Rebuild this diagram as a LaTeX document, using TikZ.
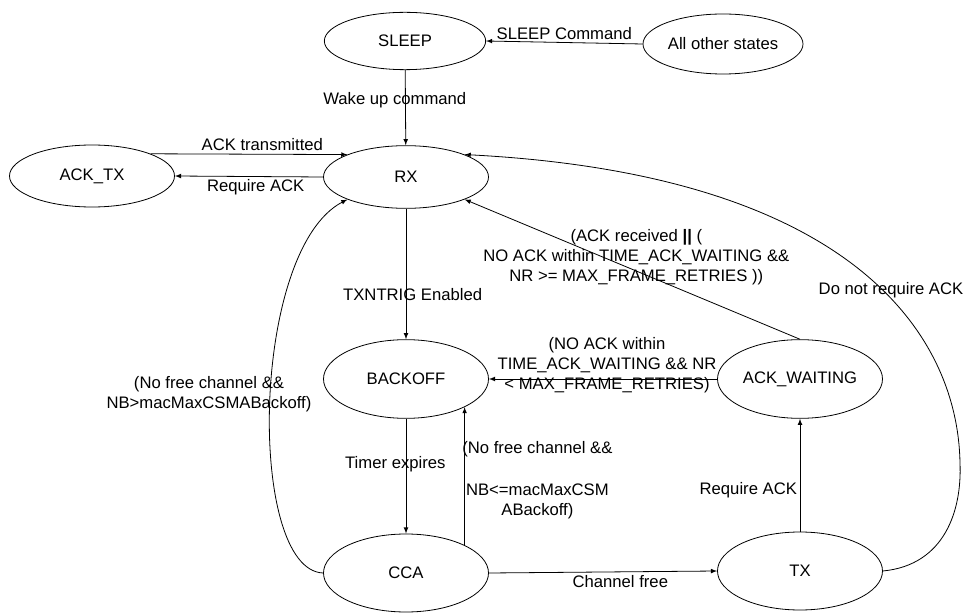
\documentclass[tikz,border=0pt]{standalone}
\usepackage{fontspec}
\setmainfont{Liberation Sans}
\usetikzlibrary{shapes.geometric}

\begin{document}
\begin{tikzpicture}[
                x=0.75pt, y=-0.75pt,
                font=\fontsize{12.5}{15}\selectfont,
                >=latex,
                every edge/.style={draw, semithick},
                state/.style={draw, semithick, ellipse, inner sep=0pt, minimum width=123.75pt, minimum height=59pt},
                lbl/.style={align=center, inner sep=2pt}]

    \useasboundingbox (0,0) rectangle (965,613);

    %%% NODES
    \node [state, minimum width=121pt, minimum height=43pt] (sleep) at (405,41) {SLEEP};
    \node [state, minimum width=120pt, minimum height=45pt] (allother) at (723,44) {All other states};
    \node [state, minimum height=46.5pt] (acktx) at (92,176) {ACK\_TX};
    \node [state, minimum height=47pt] (rx) at (406,177) {RX};
    \node [state] (backoff) at (406,379) {BACKOFF};
    \node [state] (ackwaiting) at (800,379) {ACK\_WAITING};
    \node [state, minimum height=58.5pt] (cca) at (406,573) {CCA};
    \node [state, minimum height=58.5pt] (tx) at (800,571) {TX};
    \coordinate (farright) at (960,463);

    %%% CONNECTIONS
    \path (allother.west) edge [->] node[lbl, above] {SLEEP Command} (sleep.east);
    \path (sleep) edge [->] node[lbl, pos=0.4, xshift=-8pt] {Wake up command} (rx);
    \path (acktx.north east) edge [->] node[lbl, above, xshift=10pt] {ACK transmitted} (rx.north west);
    \path (rx.west) edge [->] node[lbl, below, xshift=5pt] {Require ACK} (acktx.east);
    \path (rx) edge [->] node[lbl, pos=0.66, xshift=5pt] {TXNTRIG Enabled} (backoff);
    \path (backoff) edge [->] node[lbl, pos=0.4, xshift=-8pt] {Timer expires} (cca);
    \path (cca.north east) edge [->] node[lbl, right, inner sep=0pt, xshift=-2pt, yshift=-3pt] {(No free channel \&\&\\[17pt]NB<=macMaxCSM\\ABackoff)} (cca.north east |- backoff.south east);
    \path (ackwaiting.west) edge [->] node[lbl, yshift=10.5pt, xshift=3pt] {(NO ACK within\\TIME\_ACK\_WAITING \&\& NR\\< MAX\_FRAME\_RETRIES)} (backoff.east);
    \path (ackwaiting.north) edge [->] node[lbl, yshift=9pt, xshift=3pt] {(ACK received \textbf{||} (\\NO ACK within TIME\_ACK\_WAITING \&\&\\NR >= MAX\_FRAME\_RETRIES ))} (rx.south east);
    \path (tx.north) edge [->] node[lbl, left, pos=0.37] {Require ACK} (ackwaiting.south);
    \path (cca.east) edge [->] node[lbl, below, xshift=13pt] {Channel free} (tx.west);
    \draw [->, semithick] (tx.east) .. controls (945,565) and (962,510) .. (farright) .. controls (958,340) and (860,175) .. (rx.north east);
    \node [lbl] (dontrequire) at (891,290) {Do not require ACK};
    \draw [->, semithick] (cca.west) .. controls (247,570) and (250,250) .. (rx.south west);
    \node [lbl] (nofree) at (209,394) {(No free channel \&\&\\NB>macMaxCSMABackoff)};

\end{tikzpicture}
\end{document}
